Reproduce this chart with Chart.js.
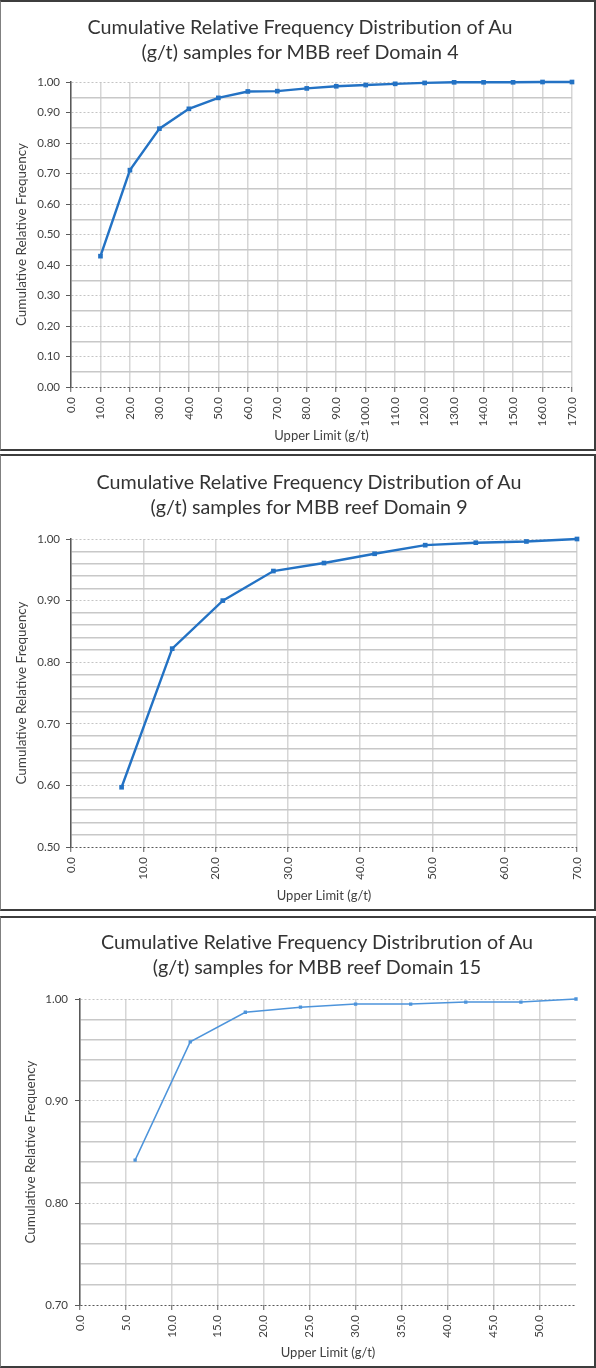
<!DOCTYPE html>
<html>
<head>
<meta charset="utf-8">
<script src="https://cdn.jsdelivr.net/npm/chart.js@4.4.1/dist/chart.umd.min.js"></script>
<style>
  body { margin: 0; background: #fff; width: 596px; height: 1368px; position: relative; overflow: hidden; }
  canvas { position: absolute; left: 0; }
  .panel { position: absolute; left: 0; width: 596px; box-sizing: border-box; border: 2px solid #3d3d3d; border-left: 1px solid #808080; pointer-events: none; }
  .title { position: absolute; width: 596px; text-align: center; font-family: Lato, sans-serif; font-size: 19.7px; line-height: 25px; color: #333; font-variant-ligatures: none; }
</style>
</head>
<body>
<canvas id="chart4" width="596" height="451" style="top:0"></canvas>
<canvas id="chart9" width="596" height="457" style="top:454px"></canvas>
<canvas id="chart15" width="596" height="452" style="top:916px"></canvas>

<div class="title" style="left:2px; top:14px">Cumulative Relative Frequency Distribution of Au<br>(g/t) samples for MBB reef Domain 4</div>
<div class="title" style="left:11px; top:469px">Cumulative Relative Frequency Distribution of Au<br>(g/t) samples for MBB reef Domain 9</div>
<div class="title" style="left:19px; top:929px">Cumulative Relative Frequency Distribrution of Au<br>(g/t) samples for MBB reef Domain 15</div>

<div class="panel" style="top:0; height:451px"></div>
<div class="panel" style="top:454px; height:457px"></div>
<div class="panel" style="top:916px; height:452px"></div>

<script>
// Domain 4
const d4Limits = [10, 20, 30, 40, 50, 60, 70, 80, 90, 100, 110, 120, 130, 140, 150, 160, 170];
const d4Freq = [0.429, 0.711, 0.847, 0.912, 0.948, 0.969, 0.970, 0.979, 0.986, 0.990, 0.994, 0.997, 0.999, 0.999, 0.999, 1.000, 1.000];

// Domain 9
const d9Limits = [7, 14, 21, 28, 35, 42, 49, 56, 63, 70];
const d9Freq = [0.597, 0.822, 0.900, 0.948, 0.961, 0.976, 0.990, 0.994, 0.996, 1.000];

// Domain 15
const d15Limits = [6, 12, 18, 24, 30, 36, 42, 48, 54];
const d15Freq = [0.842, 0.958, 0.987, 0.992, 0.995, 0.995, 0.997, 0.997, 1.000];

const FONT = 'Lato, sans-serif';
const TEXT = '#404040';

function isMajor(v) {
  return Math.round(v * 100) % 10 === 0;
}

function makeChart(id, limits, freq, cfg) {
  const points = limits.map((x, i) => ({x: x, y: freq[i]}));
  const ctx = document.getElementById(id).getContext('2d');
  return new Chart(ctx, {
    type: 'line',
    data: {
      datasets: [{
        data: points,
        borderColor: cfg.color,
        backgroundColor: cfg.color,
        borderWidth: cfg.lineWidth,
        pointStyle: 'rect',
        pointRadius: cfg.pointRadius,
        pointHoverRadius: cfg.pointRadius,
        tension: 0,
        fill: false,
        clip: false,
      }]
    },
    options: {
      responsive: false,
      animation: false,
      devicePixelRatio: 1,
      layout: {
        padding: {top: cfg.top, right: cfg.right, bottom: 0, left: 0}
      },
      plugins: {
        legend: {display: false},
        tooltip: {enabled: false},
        title: {display: false}
      },
      scales: {
        x: {
          type: 'linear',
          min: 0,
          max: cfg.xMax,
          afterFit: (scale) => { scale.height = cfg.xHeight; },
          ticks: {
            stepSize: cfg.xStep,
            includeBounds: false,
            autoSkip: false,
            minRotation: 90,
            maxRotation: 90,
            padding: 5,
            color: TEXT,
            font: {family: FONT, size: 11.5},
            callback: (v) => v.toFixed(1)
          },
          grid: {
            color: '#d6d6d6',
            lineWidth: 1.5,
            tickLength: 5,
            tickColor: '#595959',
            tickWidth: 1
          },
          border: {display: false},
          title: {
            display: true,
            text: 'Upper Limit (g/t)',
            color: TEXT,
            font: {family: FONT, size: 13},
            padding: {top: 0, bottom: 7}
          }
        },
        y: {
          min: cfg.yMin,
          max: 1,
          afterFit: (scale) => { scale.width = cfg.yWidth; },
          ticks: {
            stepSize: cfg.yStep,
            autoSkip: false,
            padding: cfg.yPad,
            color: TEXT,
            font: {family: FONT, size: 11.5},
            callback: (v) => isMajor(v) ? v.toFixed(2) : ''
          },
          grid: {
            color: (c) => {
              if (!c.tick) return '#c6c6c6';
              if (Math.abs(c.tick.value - cfg.yMin) < 1e-6) return '#595959';
              return isMajor(c.tick.value) ? '#c4c4c4' : '#c8c8c8';
            },
            lineWidth: (c) => (c.tick && isMajor(c.tick.value)) ? 1 : 1.5,
            tickLength: 5,
            tickColor: (c) => (c.tick && isMajor(c.tick.value)) ? '#595959' : 'rgba(0,0,0,0)',
            tickWidth: 1
          },
          border: {
            display: true,
            color: '#595959',
            width: 1.5,
            dash: (c) => (c.tick && isMajor(c.tick.value)) ? [2, 2] : []
          },
          title: {
            display: true,
            text: 'Cumulative Relative Frequency',
            color: TEXT,
            font: {family: FONT, size: 13.5},
            padding: {top: cfg.yTitlePad, bottom: 0}
          }
        }
      }
    }
  });
}

makeChart('chart4', d4Limits, d4Freq, {
  color: '#2372c4', lineWidth: 2.4, pointRadius: 1.6,
  top: 82, right: 24, xHeight: 64, yWidth: 71, yPad: 6, yTitlePad: 14,
  xMax: 170, xStep: 10, yMin: 0, yStep: 0.05
});

makeChart('chart9', d9Limits, d9Freq, {
  color: '#2372c4', lineWidth: 2.4, pointRadius: 1.6,
  top: 85, right: 19, xHeight: 64, yWidth: 71, yPad: 6, yTitlePad: 14,
  xMax: 70, xStep: 10, yMin: 0.5, yStep: 0.02
});

makeChart('chart15', d15Limits, d15Freq, {
  color: '#4d94db', lineWidth: 1.5, pointRadius: 1.3,
  top: 83, right: 20, xHeight: 63, yWidth: 80, yPad: 7, yTitlePad: 23,
  xMax: 54, xStep: 5, yMin: 0.7, yStep: 0.02
});
</script>
</body>
</html>
